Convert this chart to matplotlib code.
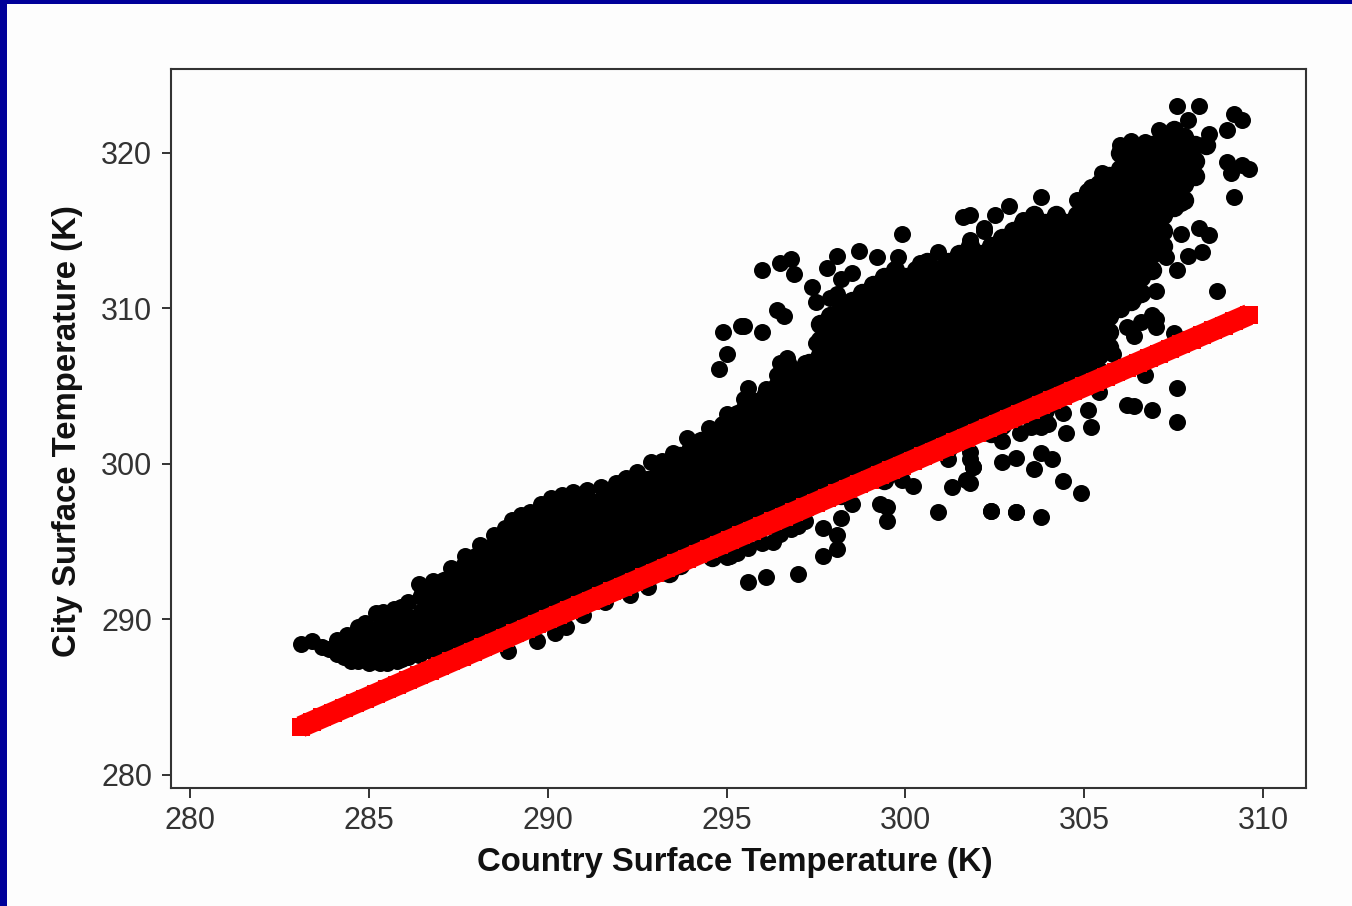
import matplotlib
matplotlib.use("Agg")
import matplotlib.pyplot as plt
from matplotlib.patches import Rectangle

# -----------------------------
# Dense middle of the cloud, one list of y per x column
# -----------------------------
core_x = [284.4, 284.7, 285.0, 285.3, 285.6, 285.9, 286.2, 286.5, 286.8, 287.1, 287.4, 287.7, 288.0,
          288.3, 288.6, 288.9, 289.2, 289.5, 289.8, 290.1, 290.4, 290.7, 291.0, 291.3, 291.6, 291.9,
          292.2, 292.5, 292.8, 293.1, 293.4, 293.7, 294.0, 294.3, 294.6, 294.9, 295.2, 295.5, 295.8,
          296.1, 296.4, 296.7, 297.0, 297.3, 297.6, 297.9, 298.2, 298.5, 298.8, 299.1, 299.4, 299.7,
          300.0, 300.3, 300.6, 300.9, 301.2, 301.5, 301.8, 302.1, 302.4, 302.7, 303.0, 303.3, 303.6,
          303.9, 304.2, 304.5, 304.8, 305.1, 305.4, 305.7, 306.0, 306.3, 306.6, 306.9, 307.2, 307.5,
          307.8, 308.1, 308.4]

core_y = [
    [288],
    [287.5, 288.5],
    [288, 289],
    [287.5, 288.5, 289.5],
    [288, 289, 290],
    [287.5, 288.5, 289.5, 290.5],
    [288, 289, 290],
    [288.5, 289.5, 290.5, 291.5],
    [288, 289, 290, 291, 292],
    [288.5, 289.5, 290.5, 291.5, 292.5],
    [288, 289, 290, 291, 292, 293],
    [288.5, 289.5, 290.5, 291.5, 292.5, 293.5],
    [289, 290, 291, 292, 293, 294],
    [288.5, 289.5, 290.5, 291.5, 292.5, 293.5, 294.5],
    [289, 290, 291, 292, 293, 294, 295],
    [289.5, 290.5, 291.5, 292.5, 293.5, 294.5, 295.5],
    [290, 291, 292, 293, 294, 295, 296],
    [289.5, 290.5, 291.5, 292.5, 293.5, 294.5, 295.5, 296.5],
    [290, 291, 292, 293, 294, 295, 296, 297],
    [290.5, 291.5, 292.5, 293.5, 294.5, 295.5, 296.5, 297.5],
    [291, 292, 293, 294, 295, 296, 297],
    [291.5, 292.5, 293.5, 294.5, 295.5, 296.5, 297.5],
    [291, 292, 293, 294, 295, 296, 297, 298],
    [291.5, 292.5, 293.5, 294.5, 295.5, 296.5, 297.5],
    [292, 293, 294, 295, 296, 297, 298],
    [292.5, 293.5, 294.5, 295.5, 296.5, 297.5, 298.5],
    [292, 293, 294, 295, 296, 297, 298, 299],
    [292.5, 293.5, 294.5, 295.5, 296.5, 297.5, 298.5],
    [293, 294, 295, 296, 297, 298, 299],
    [293.5, 294.5, 295.5, 296.5, 297.5, 298.5, 299.5],
    [293, 294, 295, 296, 297, 298, 299, 300],
    [293.5, 294.5, 295.5, 296.5, 297.5, 298.5, 299.5, 300.5],
    [294, 295, 296, 297, 298, 299, 300, 301],
    [294.5, 295.5, 296.5, 297.5, 298.5, 299.5, 300.5, 301.5],
    [294, 295, 296, 297, 298, 299, 300, 301, 302],
    [294.5, 295.5, 296.5, 297.5, 298.5, 299.5, 300.5, 301.5, 302.5],
    [295, 296, 297, 298, 299, 300, 301, 302, 303],
    [295.5, 296.5, 297.5, 298.5, 299.5, 300.5, 301.5, 302.5, 303.5],
    [296, 297, 298, 299, 300, 301, 302, 303, 304],
    [296.5, 297.5, 298.5, 299.5, 300.5, 301.5, 302.5, 303.5, 304.5],
    [296, 297, 298, 299, 300, 301, 302, 303, 304, 305],
    [296.5, 297.5, 298.5, 299.5, 300.5, 301.5, 302.5, 303.5, 304.5, 305.5, 306.5],
    [297, 298, 299, 300, 301, 302, 303, 304, 305, 306],
    [297.5, 298.5, 299.5, 300.5, 301.5, 302.5, 303.5, 304.5, 305.5, 306.5],
    [298, 299, 300, 301, 302, 303, 304, 305, 306, 307, 308, 309],
    [298.5, 299.5, 300.5, 301.5, 302.5, 303.5, 304.5, 305.5, 306.5, 307.5, 308.5, 309.5],
    [298, 299, 300, 301, 302, 303, 304, 305, 306, 307, 308, 309, 310],
    [298.5, 299.5, 300.5, 301.5, 302.5, 303.5, 304.5, 305.5, 306.5, 307.5, 308.5, 309.5, 310.5],
    [299, 300, 301, 302, 303, 304, 305, 306, 307, 308, 309, 310, 311],
    [299.5, 300.5, 301.5, 302.5, 303.5, 304.5, 305.5, 306.5, 307.5, 308.5, 309.5, 310.5, 311.5],
    [299, 300, 301, 302, 303, 304, 305, 306, 307, 308, 309, 310, 311, 312],
    [299.5, 300.5, 301.5, 302.5, 303.5, 304.5, 305.5, 306.5, 307.5, 308.5, 309.5, 310.5, 311.5, 312.5],
    [300, 301, 302, 303, 304, 305, 306, 307, 308, 309, 310, 311, 312],
    [300.5, 301.5, 302.5, 303.5, 304.5, 305.5, 306.5, 307.5, 308.5, 309.5, 310.5, 311.5, 312.5],
    [301, 302, 303, 304, 305, 306, 307, 308, 309, 310, 311, 312, 313],
    [301.5, 302.5, 303.5, 304.5, 305.5, 306.5, 307.5, 308.5, 309.5, 310.5, 311.5, 312.5],
    [301, 302, 303, 304, 305, 306, 307, 308, 309, 310, 311, 312, 313],
    [301.5, 302.5, 303.5, 304.5, 305.5, 306.5, 307.5, 308.5, 309.5, 310.5, 311.5, 312.5, 313.5],
    [302, 303, 304, 305, 306, 307, 308, 309, 310, 311, 312, 313, 314],
    [302.5, 303.5, 304.5, 305.5, 306.5, 307.5, 308.5, 309.5, 310.5, 311.5, 312.5, 313.5],
    [302, 303, 304, 305, 306, 307, 308, 309, 310, 311, 312, 313, 314],
    [302.5, 303.5, 304.5, 305.5, 306.5, 307.5, 308.5, 309.5, 310.5, 311.5, 312.5, 313.5, 314.5],
    [303, 304, 305, 306, 307, 308, 309, 310, 311, 312, 313, 314, 315],
    [303.5, 304.5, 305.5, 306.5, 307.5, 308.5, 309.5, 310.5, 311.5, 312.5, 313.5, 314.5, 315.5],
    [303, 304, 305, 306, 307, 308, 309, 310, 311, 312, 313, 314, 315, 316],
    [303.5, 304.5, 305.5, 306.5, 307.5, 308.5, 309.5, 310.5, 311.5, 312.5, 313.5, 314.5, 315.5],
    [304, 305, 306, 307, 308, 309, 310, 311, 312, 313, 314, 315, 316],
    [304.5, 305.5, 306.5, 307.5, 308.5, 309.5, 310.5, 311.5, 312.5, 313.5, 314.5, 315.5],
    [305, 306, 307, 308, 309, 310, 311, 312, 313, 314, 315, 316],
    [305.5, 306.5, 307.5, 308.5, 309.5, 310.5, 311.5, 312.5, 313.5, 314.5, 315.5, 316.5, 317.5],
    [306, 307, 308, 309, 310, 311, 312, 313, 314, 315, 316, 317, 318],
    [307.5, 308.5, 309.5, 310.5, 311.5, 312.5, 313.5, 314.5, 315.5, 316.5, 317.5, 318.5],
    [310, 311, 312, 313, 314, 315, 316, 317, 318, 319, 320],
    [310.5, 311.5, 312.5, 313.5, 314.5, 315.5, 316.5, 317.5, 318.5, 319.5, 320.5],
    [311, 312, 313, 314, 315, 316, 317, 318, 319, 320],
    [312.5, 313.5, 314.5, 315.5, 316.5, 317.5, 318.5, 319.5, 320.5],
    [314, 315, 316, 317, 318, 319, 320, 321],
    [316.5, 317.5, 318.5, 319.5, 320.5, 321.5],
    [317, 318, 319, 320, 321],
    [318.5, 319.5, 320.5],
    [320.5],
]

# -----------------------------
# Outline and stray points, read one by one
# -----------------------------
edge_x = [283.1, 283.4, 283.7, 284.1, 284.5, 285.3, 286.1, 284.1, 284.7, 285.2, 285.7, 286.1, 286.4, 286.8,
          287.3, 287.7, 288.1, 288.5, 289.0, 289.5, 290.1, 290.7, 291.5, 292.2, 292.9, 293.5, 293.9, 294.5,
          288.9, 289.7, 290.2, 290.5, 291.0, 291.6, 292.3, 292.8, 295.0,
          295.1, 295.3, 296.0, 296.3, 296.8, 297.2, 295.6, 296.1, 297.0, 297.7, 298.1, 298.1, 297.7, 298.2, 298.5,
          299.5, 299.5, 299.3, 300.9, 302.4, 303.1, 300.2, 299.9, 301.3, 301.8, 301.9,
          296.0, 296.5, 296.8, 296.9, 297.4, 296.4, 296.6, 296.0, 295.4, 295.5, 294.9, 295.0, 294.8,
          299.9, 298.1, 298.7, 297.8, 298.2, 298.5, 299.2, 299.8, 300.4, 300.9, 301.8, 302.2, 299.0,
          297.5, 297.9, 298.1, 297.5, 296.7, 296.5, 296.4, 297.2, 295.6, 295.5, 296.1, 295.0, 295.3,
          302.9, 302.5, 301.8, 301.6, 303.8, 302.2, 303.3, 304.8, 301.8,
          306.3, 306.0, 306.7, 307.1, 307.9, 308.5, 305.5, 305.2,
          307.6, 308.2, 309.2, 309.4, 309.0, 309.6, 309.4, 309.0, 309.1, 309.2, 308.2, 308.5, 308.3, 308.7,
          307.9, 307.6, 307.0, 307.7, 307.7, 307.3, 306.6, 307.0, 305.8, 306.4,
          307.5, 307.6, 307.6, 306.9, 306.4, 306.2, 306.7, 305.4, 305.1, 305.2, 304.5, 304.0, 303.8, 303.5,
          302.7, 303.1, 303.6, 303.8, 304.1, 304.4, 304.9, 302.4, 303.1, 303.8, 301.9, 301.7, 301.8,
          283.9, 284.3, 284.7, 285.0, 285.5, 285.8, 286.4, 284.4, 284.9, 285.4, 285.9,
          288.8, 289.25, 289.8, 290.4, 291.1, 291.9, 292.5, 293.2,
          306.2, 306.9, 307.0, 306.4, 295.6, 296.5, 297.0, 301.2, 301.8, 302.7, 303.2, 303.9, 304.4]
edge_y = [288.4, 288.6, 288.2, 287.8, 287.3, 287.2, 287.6, 288.7, 289.5, 290.4, 290.7, 291.1, 292.3, 292.5,
          293.3, 294.1, 294.8, 295.4, 296.4, 296.9, 297.8, 298.2, 298.5, 299.1, 300.1, 300.7, 301.7, 302.3,
          288.0, 288.6, 289.1, 289.5, 290.3, 291.1, 291.6, 292.1, 294.0,
          294.1, 294.3, 294.9, 295.0, 295.8, 296.3, 292.4, 292.7, 292.9, 294.1, 294.5, 295.4, 295.9, 296.5, 297.4,
          296.3, 297.2, 297.4, 296.9, 297.0, 296.9, 298.6, 299.0, 298.5, 298.8, 299.8,
          312.5, 312.9, 313.2, 312.2, 311.4, 309.9, 309.5, 308.5, 308.9, 308.9, 308.5, 307.1, 306.1,
          314.8, 313.4, 313.7, 312.6, 311.9, 312.3, 313.3, 313.3, 312.9, 313.6, 314.3, 315.0, 311.1,
          310.4, 310.7, 310.9, 307.8, 306.8, 306.5, 305.7, 306.5, 304.9, 304.2, 304.8, 303.2, 303.3,
          316.6, 316.0, 316.0, 315.9, 317.2, 315.2, 315.7, 317.0, 314.4,
          320.8, 320.5, 320.7, 321.5, 322.1, 321.2, 318.7, 317.8,
          323.0, 323.0, 322.5, 322.1, 321.5, 319.0, 319.2, 319.4, 318.7, 317.2, 315.2, 314.7, 313.6, 311.1,
          313.4, 312.5, 311.1, 316.8, 314.8, 313.3, 309.1, 309.3, 307.1, 310.7,
          308.4, 304.9, 302.7, 303.5, 303.7, 303.8, 305.7, 304.6, 303.5, 302.4, 302.0, 302.6, 302.4, 302.4,
          300.1, 300.4, 299.7, 300.7, 300.3, 298.9, 298.1, 297.0, 296.9, 296.6, 299.8, 299.0, 300.3,
          288.1, 287.6, 287.3, 287.2, 287.2, 287.3, 287.7, 289.0, 289.8, 290.5, 290.8,
          295.9, 296.7, 297.4, 298.0, 298.3, 298.8, 299.5, 300.2,
          308.8, 309.6, 308.8, 308.2, 294.6, 295.5, 296.0, 300.3, 300.8, 301.5, 302.0, 302.8, 303.3]

# -----------------------------
# Red 1:1 line
# -----------------------------
line_x = [283.1, 283.4, 283.7, 284.0, 284.3, 284.6, 284.9, 285.2, 285.5, 285.8, 286.1, 286.4, 286.7, 287.0,
          287.3, 287.6, 287.9, 288.2, 288.5, 288.8, 289.1, 289.4, 289.7, 290.0, 290.3, 290.6, 290.9, 291.2,
          291.5, 291.8, 292.1, 292.4, 292.7, 293.0, 293.3, 293.6, 293.9, 294.2, 294.5, 294.8, 295.1, 295.4,
          295.7, 296.0, 296.3, 296.6, 296.9, 297.2, 297.5, 297.8, 298.1, 298.4, 298.7, 299.0, 299.3, 299.6,
          299.9, 300.2, 300.5, 300.8, 301.1, 301.4, 301.7, 302.0, 302.3, 302.6, 302.9, 303.2, 303.5, 303.8,
          304.1, 304.4, 304.7, 305.0, 305.3, 305.6, 305.9, 306.2, 306.5, 306.8, 307.1, 307.4, 307.7, 308.0,
          308.3, 308.6, 308.9, 309.2, 309.6]
line_y = line_x

x_ticks = [280, 285, 290, 295, 300, 305, 310]
y_ticks = [280, 290, 300, 310, 320]

# flatten the columns
inner_x = []
inner_y = []
for col, ys in zip(core_x, core_y):
    inner_x += [col] * len(ys)
    inner_y += ys

# -----------------------------
# Plot
# -----------------------------
plt.rcParams["font.family"] = ["Liberation Sans", "DejaVu Sans"]

fig = plt.figure(figsize=(13.52, 9.06), dpi=100, facecolor="#fdfdfd")

# blue slide border
fig.add_artist(Rectangle((0, 0), 7 / 1352, 1, transform=fig.transFigure, color="#000099", lw=0))
fig.add_artist(Rectangle((0, 1 - 4 / 906), 1, 4 / 906, transform=fig.transFigure, color="#000099", lw=0))

ax = fig.add_axes([171 / 1352, 1 - 788 / 906, 1135 / 1352, 719 / 906])
ax.set_facecolor("#fdfdfd")

ax.scatter(inner_x, inner_y, s=195, c="black", linewidths=0, zorder=2)
ax.scatter(edge_x, edge_y, s=150, c="black", linewidths=0, zorder=2)

# squares fused into one thick band
ax.plot(line_x, line_y, color="#ff0000", lw=15.6, solid_capstyle="butt", zorder=3)
ax.scatter(line_x, line_y, s=150, c="#ff0000", marker="s", linewidths=0, zorder=3)

ax.set_xlim(279.47, 311.2)
ax.set_ylim(279.16, 325.4)
ax.set_xticks(x_ticks)
ax.set_yticks(y_ticks)

ax.tick_params(axis="x", length=7.2, width=1.4, color="#333333", labelcolor="#333333", labelsize=22, pad=5.5)
ax.tick_params(axis="y", length=6.5, width=1.4, color="#333333", labelcolor="#333333", labelsize=22, pad=7)
for spine in ax.spines.values():
    spine.set_linewidth(1.5)
    spine.set_color("#333333")

ax.set_xlabel("Country Surface Temperature (K)", fontsize=23.7, fontweight="bold", color="#111111", va="center")
ax.set_ylabel("City Surface Temperature (K)", fontsize=23.7, fontweight="bold", color="#111111", va="center")
ax.xaxis.set_label_coords((735 - 171) / 1135, -(862 - 788) / 719)
ax.yaxis.set_label_coords(-(171 - 68) / 1135, (788 - 431) / 719)

fig.savefig("out.png", dpi=100, facecolor=fig.get_facecolor())
